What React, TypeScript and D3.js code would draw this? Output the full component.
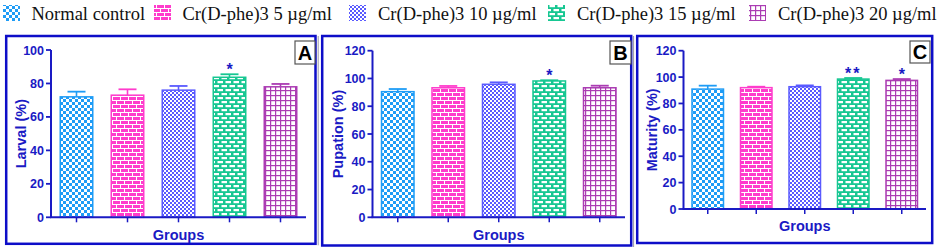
import React from "react";
import * as d3 from "d3";

const groups = [
  "Normal control",
  "Cr(D-phe)3 5 µg/ml",
  "Cr(D-phe)3 10 µg/ml",
  "Cr(D-phe)3 15 µg/ml",
  "Cr(D-phe)3 20 µg/ml",
];

const larvalMean = [72, 73, 76, 83.7, 78];
const larvalErr = [3.1, 3.5, 2.5, 1.8, 1.7];
const larvalSig = ["", "", "", "*", ""];

const pupationMean = [90.5, 93.3, 95.8, 98.2, 93.3];
const pupationErr = [1.9, 1.3, 1.4, 0.5, 1.5];
const pupationSig = ["", "", "", "*", ""];

const maturityMean = [90.9, 92.0, 92.7, 98.5, 97.5];
const maturityErr = [2.6, 0.7, 1.0, 0.8, 1.0];
const maturitySig = ["", "", "", "**", "*"];

const yTicksA = [0, 20, 40, 60, 80, 100];
const yTicksBC = [0, 20, 40, 60, 80, 100, 120];

const panelLetters = ["A", "B", "C"];
const yLabels = ["Larval (%)", "Pupation (%)", "Maturity (%)"];
const xLabel = "Groups";

const colors = ["#1e9cf6", "#ff3ccc", "#5a5aff", "#17c792", "#ab3cb3"];
const patternIds = ["pCheck", "pBrickPink", "pFine", "pBrickGreen", "pGrid"];

const AXIS = "#1a1ac4";
const FRAME = "#0d0dc8";
const SANS = "'Liberation Sans', Arial, sans-serif";
const SERIF = "'Liberation Serif', 'Times New Roman', serif";

const panels = [
  { mean: larvalMean, err: larvalErr, sig: larvalSig, ticks: yTicksA, yMax: 100 },
  { mean: pupationMean, err: pupationErr, sig: pupationSig, ticks: yTicksBC, yMax: 120 },
  { mean: maturityMean, err: maturityErr, sig: maturitySig, ticks: yTicksBC, yMax: 120 },
];

const layouts = [
  { frame: [6.2, 36, 315.5, 243.8], x0: 51, x1: 306, yTop: 50, yBot: 217.3, bw: 34, ylabX: 21, xlabY: 239.5, box: [295, 41, 20, 23], shadow: 318.2 },
  { frame: [322.2, 36, 631.2, 245.5], x0: 372.5, x1: 625, yTop: 50.7, yBot: 217.3, bw: 34, ylabX: 338, xlabY: 239.5, box: [610, 41, 21, 23], shadow: 633.6 },
  { frame: [637.2, 36, 932.2, 243], x0: 683.5, x1: 926, yTop: 50.7, yBot: 209, bw: 33, ylabX: 652, xlabY: 230.5, box: [910, 41, 20, 22], shadow: 0 },
];

const legendSwatchX = [2, 153, 348, 547, 748];
const legendTextX = [31.5, 182.5, 378, 577, 778];

function Patterns() {
  return (
    <defs>
      <pattern id="pCheck" patternUnits="userSpaceOnUse" width={6} height={6}>
        <rect width={6} height={6} fill="#fff" />
        <rect x={0} y={0} width={3} height={3} fill={colors[0]} />
        <rect x={3} y={3} width={3} height={3} fill={colors[0]} />
      </pattern>
      <pattern id="pBrickPink" patternUnits="userSpaceOnUse" width={8} height={8}>
        <rect width={8} height={8} fill={colors[1]} />
        <line x1={0} y1={0.5} x2={8} y2={0.5} stroke="#fff" strokeWidth={1} />
        <line x1={0} y1={4.5} x2={8} y2={4.5} stroke="#fff" strokeWidth={1} />
        <line x1={0.5} y1={0} x2={0.5} y2={4} stroke="#fff" strokeWidth={1} />
        <line x1={4.5} y1={4} x2={4.5} y2={8} stroke="#fff" strokeWidth={1} />
      </pattern>
      <pattern id="pFine" patternUnits="userSpaceOnUse" width={4} height={4}>
        <rect width={4} height={4} fill="#fff" />
        <rect x={0} y={0} width={2} height={2} fill={colors[2]} />
        <rect x={2} y={2} width={2} height={2} fill={colors[2]} />
      </pattern>
      <pattern id="pBrickGreen" patternUnits="userSpaceOnUse" width={8} height={8}>
        <rect width={8} height={8} fill={colors[3]} />
        <rect x={1.5} y={1} width={5.5} height={2.2} fill="#fff" />
        <rect x={5.5} y={5} width={5.5} height={2.2} fill="#fff" />
        <rect x={-2.5} y={5} width={5.5} height={2.2} fill="#fff" />
      </pattern>
      <pattern id="pGrid" patternUnits="userSpaceOnUse" width={5} height={5}>
        <rect width={5} height={5} fill="#fff" />
        <line x1={0} y1={0.6} x2={5} y2={0.6} stroke={colors[4]} strokeWidth={1.2} />
        <line x1={0.6} y1={0} x2={0.6} y2={5} stroke={colors[4]} strokeWidth={1.2} />
      </pattern>
    </defs>
  );
}

function Panel({ idx }: { idx: number }) {
  const p = panels[idx];
  const L = layouts[idx];
  const x = d3.scalePoint<string>().domain(groups).range([L.x0, L.x1]).padding(0.5);
  const y = d3.scaleLinear().domain([0, p.yMax]).range([L.yBot, L.yTop]);
  const [fx0, fy0, fx1, fy1] = L.frame;
  const cx = (L.x0 + L.x1) / 2;
  const cy = (L.yTop + L.yBot) / 2;
  const capW = 18;
  return (
    <g>
      <rect x={fx0} y={fy0} width={fx1 - fx0} height={fy1 - fy0} fill="none" stroke={FRAME} strokeWidth={2.5} />
      {L.shadow ? (
        <line x1={L.shadow} y1={fy0} x2={L.shadow} y2={fy1 + 1.5} stroke="#9a9aa6" strokeWidth={1} />
      ) : null}
      {groups.map((g, i) => {
        const c = x(g) as number;
        const top = y(p.mean[i]);
        const et = y(p.mean[i] + p.err[i]);
        return (
          <g key={g}>
            <line x1={c} y1={top} x2={c} y2={et} stroke={colors[i]} strokeWidth={1.6} />
            <line x1={c - capW / 2} y1={et} x2={c + capW / 2} y2={et} stroke={colors[i]} strokeWidth={1.8} />
            <rect
              x={c - L.bw / 2 + 0.75}
              y={top}
              width={L.bw - 1.5}
              height={L.yBot - top}
              fill={`url(#${patternIds[i]})`}
              stroke={colors[i]}
              strokeWidth={1.5}
            />
            {p.sig[i] ? (
              <text
                x={c}
                y={et + 0.5}
                textAnchor="middle"
                fontFamily={SANS}
                fontWeight="bold"
                fontSize={16}
                letterSpacing={p.sig[i].length > 1 ? 2 : 0}
                fill={AXIS}
              >
                {p.sig[i]}
              </text>
            ) : null}
            <line x1={c} y1={L.yBot} x2={c} y2={L.yBot + 5} stroke={AXIS} strokeWidth={1.5} />
          </g>
        );
      })}
      <line x1={L.x0} y1={L.yTop} x2={L.x0} y2={L.yBot} stroke={AXIS} strokeWidth={2} />
      <line x1={L.x0 - 1} y1={L.yBot} x2={L.x1} y2={L.yBot} stroke={AXIS} strokeWidth={2} />
      {p.ticks.map((t) => (
        <g key={t}>
          <line x1={L.x0 - 5} y1={y(t)} x2={L.x0} y2={y(t)} stroke={AXIS} strokeWidth={1.8} />
          <text
            x={L.x0 - 7}
            y={y(t)}
            dy="0.36em"
            textAnchor="end"
            fontFamily={SANS}
            fontWeight="bold"
            fontSize={12.5}
            fill={AXIS}
          >
            {t}
          </text>
        </g>
      ))}
      <text
        transform={`translate(${L.ylabX},${cy}) rotate(-90)`}
        dy="0.36em"
        textAnchor="middle"
        fontFamily={SANS}
        fontWeight="bold"
        fontSize={14.5}
        fill={AXIS}
      >
        {yLabels[idx]}
      </text>
      <text x={cx} y={L.xlabY} textAnchor="middle" fontFamily={SANS} fontWeight="bold" fontSize={14.5} fill={AXIS}>
        {xLabel}
      </text>
      <rect x={L.box[0]} y={L.box[1]} width={L.box[2]} height={L.box[3]} fill="#fff" stroke="#555" strokeWidth={1.2} />
      <text
        x={L.box[0] + L.box[2] / 2}
        y={L.box[1] + L.box[3] / 2}
        dy="0.36em"
        textAnchor="middle"
        fontFamily={SANS}
        fontWeight="bold"
        fontSize={20}
        fill="#000"
      >
        {panelLetters[idx]}
      </text>
    </g>
  );
}

export default function App() {
  return (
    <svg
      width={941}
      height={250}
      viewBox="0 0 941 250"
      style={{ position: "absolute", left: 0, top: 0, background: "#fff" }}
    >
      <rect width={941} height={250} fill="#fff" />
      <Patterns />
      {groups.map((g, i) => (
        <g key={g}>
          <rect x={legendSwatchX[i] + 1} y={5} width={17} height={16} fill={`url(#${patternIds[i]})`} />
          <text x={legendTextX[i]} y={19.5} fontFamily={SERIF} fontSize={18.5} fill="#111">
            {g}
          </text>
        </g>
      ))}
      {[0, 1, 2].map((i) => (
        <Panel key={i} idx={i} />
      ))}
    </svg>
  );
}
